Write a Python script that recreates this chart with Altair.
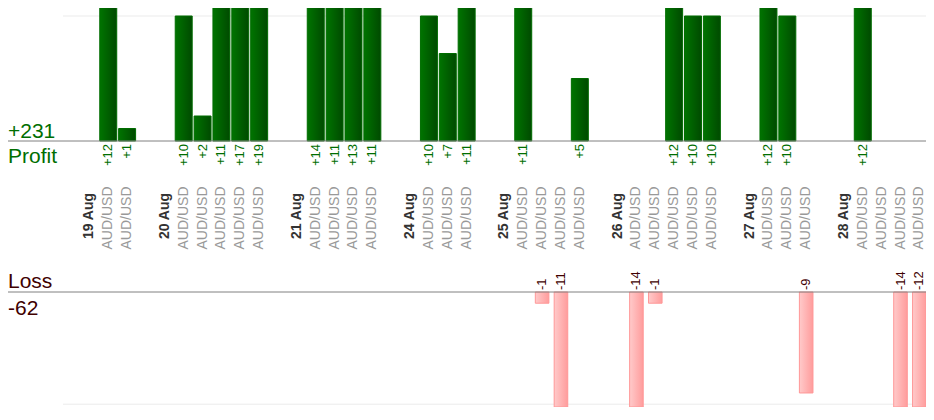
import altair as alt
import pandas as pd

# ---------------- data ----------------
day_labels = ["19 Aug", "20 Aug", "21 Aug", "24 Aug", "25 Aug", "26 Aug", "27 Aug", "28 Aug"]
trades_per_day = [2, 5, 4, 3, 4, 5, 3, 4]
trade_pips = [12, 1,
              10, 2, 11, 17, 19,
              14, 11, 13, 11,
              10, 7, 11,
              11, -1, -11, 5,
              -14, -1, 12, 10, 10,
              12, 10, -9,
              12, 0, -14, -12]
trade_symbols = ["AUD/USD"] * len(trade_pips)

# ---------------- tables ----------------
slots, date_rows, trade_rows = [], [], []
k = 0
for i, (day, n) in enumerate(zip(day_labels, trades_per_day)):
    slots.append(f"g{i}")
    slots.append(f"d{i}")
    date_rows.append({"slot": f"d{i}", "day": day})
    for _ in range(n):
        sid = f"t{k}"
        slots.append(sid)
        p = trade_pips[k]
        trade_rows.append({"slot": sid, "symbol": trade_symbols[k], "pips": p,
                           "profit": max(p, 0), "loss": max(-p, 0),
                           "plabel": f"+{p}", "llabel": f"{p}"})
        k += 1

trades = pd.DataFrame(trade_rows)
dates = pd.DataFrame(date_rows)
wins = trades[trades.pips > 0]
losses = trades[trades.pips < 0]
total_profit = int(wins.pips.sum())
total_loss = int(losses.pips.sum())
one = pd.DataFrame({"profit_txt": [f"+{total_profit}"], "loss_txt": [f"{total_loss}"],
                    "p": ["Profit"], "l": ["Loss"]})

# ---------------- styling ----------------
FONT = "Liberation Sans"
W, H = 918, 399
GREEN_TXT = "#006e00"
LOSS_TXT = "#400000"

green_grad = alt.Gradient(gradient="linear",
                          stops=[alt.GradientStop(color="#007400", offset=0),
                                 alt.GradientStop(color="#004a00", offset=1)],
                          x1=0, x2=1, y1=0, y2=0)
pink_grad = alt.Gradient(gradient="linear",
                         stops=[alt.GradientStop(color="#ffcaca", offset=0),
                                alt.GradientStop(color="#ff9c9c", offset=1)],
                         x1=0, x2=1, y1=0, y2=0)

x_scale = alt.Scale(domain=slots, range=[53.1, 920.8], paddingInner=0, paddingOuter=0)
X = alt.X("slot:N", scale=x_scale, axis=None)
top = alt.Scale(domain=[0, 10], range=[133, 8], nice=False)
bot = alt.Scale(domain=[0, 10.25], range=[284, 399], nice=False, clamp=True)

# ---------------- layers ----------------
grid_top = alt.Chart(one).mark_rule(color="#ebebeb", strokeWidth=1).encode(
    x=alt.value(55), x2=alt.value(W), y=alt.YDatum(10, scale=top, axis=None))
base_top = alt.Chart(one).mark_rule(color="#808080", strokeWidth=1).encode(
    x=alt.value(0), x2=alt.value(W), y=alt.YDatum(0, scale=top, axis=None))

bars_top = alt.Chart(wins).mark_bar(
    clip=True, width=alt.RelativeBandSize(0.9), color=green_grad,
    stroke="#006c00", strokeWidth=1).encode(
    x=X, y=alt.Y("profit:Q", scale=top, axis=None))

profit_lbl = alt.Chart(wins).mark_text(
    angle=270, align="right", baseline="middle", dx=-3, fontSize=13,
    font=FONT, color=GREEN_TXT).encode(
    x=X, y=alt.YDatum(0, scale=top, axis=None), text="plabel:N")

sym_lbl = alt.Chart(trades).mark_text(
    angle=270, align="center", baseline="middle", fontSize=14,
    font=FONT, color="#999999").encode(
    x=X, y=alt.value(210), text="symbol:N")

date_lbl = alt.Chart(dates).mark_text(
    angle=270, align="center", baseline="middle", fontSize=14, fontWeight="bold",
    font=FONT, color="#333333").encode(
    x=X, y=alt.value(208), text="day:N")

grid_bot = alt.Chart(one).mark_rule(color="#ebebeb", strokeWidth=1).encode(
    x=alt.value(55), x2=alt.value(W), y=alt.YDatum(10, scale=bot, axis=None))
base_bot = alt.Chart(one).mark_rule(color="#808080", strokeWidth=1).encode(
    x=alt.value(0), x2=alt.value(W), y=alt.YDatum(0, scale=bot, axis=None))

bars_bot = alt.Chart(losses).mark_bar(
    width=alt.RelativeBandSize(0.72), color=pink_grad,
    stroke="#ff9797", strokeWidth=1).encode(
    x=X, y=alt.Y("loss:Q", scale=bot, axis=None))

loss_lbl = alt.Chart(losses).mark_text(
    angle=270, align="left", baseline="middle", dx=2, fontSize=13,
    font=FONT, color=LOSS_TXT).encode(
    x=X, y=alt.YDatum(0, scale=bot, axis=None), text="llabel:N")

tot_profit = alt.Chart(one).mark_text(
    align="left", baseline="alphabetic", dy=-3, fontSize=21, font=FONT,
    color=GREEN_TXT).encode(
    x=alt.value(0), y=alt.YDatum(0, scale=top, axis=None), text="profit_txt:N")
profit_word = alt.Chart(one).mark_text(
    align="left", baseline="alphabetic", dy=22, fontSize=21, font=FONT,
    color=GREEN_TXT).encode(
    x=alt.value(0), y=alt.YDatum(0, scale=top, axis=None), text="p:N")
loss_word = alt.Chart(one).mark_text(
    align="left", baseline="alphabetic", dy=-4, fontSize=21, font=FONT,
    color=LOSS_TXT).encode(
    x=alt.value(0), y=alt.YDatum(0, scale=bot, axis=None), text="l:N")
tot_loss = alt.Chart(one).mark_text(
    align="left", baseline="alphabetic", dy=23, fontSize=21, font=FONT,
    color=LOSS_TXT).encode(
    x=alt.value(0), y=alt.YDatum(0, scale=bot, axis=None), text="loss_txt:N")

chart = alt.layer(
    grid_top, bars_top, base_top, profit_lbl, sym_lbl, date_lbl,
    grid_bot, bars_bot, base_bot, loss_lbl,
    tot_profit, profit_word, loss_word, tot_loss,
).resolve_scale(y="independent").properties(
    width=W, height=H, padding=0,
    autosize=alt.AutoSizeParams(type="none"),
).configure_view(strokeWidth=0)

chart.save("out.html", embed_options={"renderer": "svg", "actions": False})
